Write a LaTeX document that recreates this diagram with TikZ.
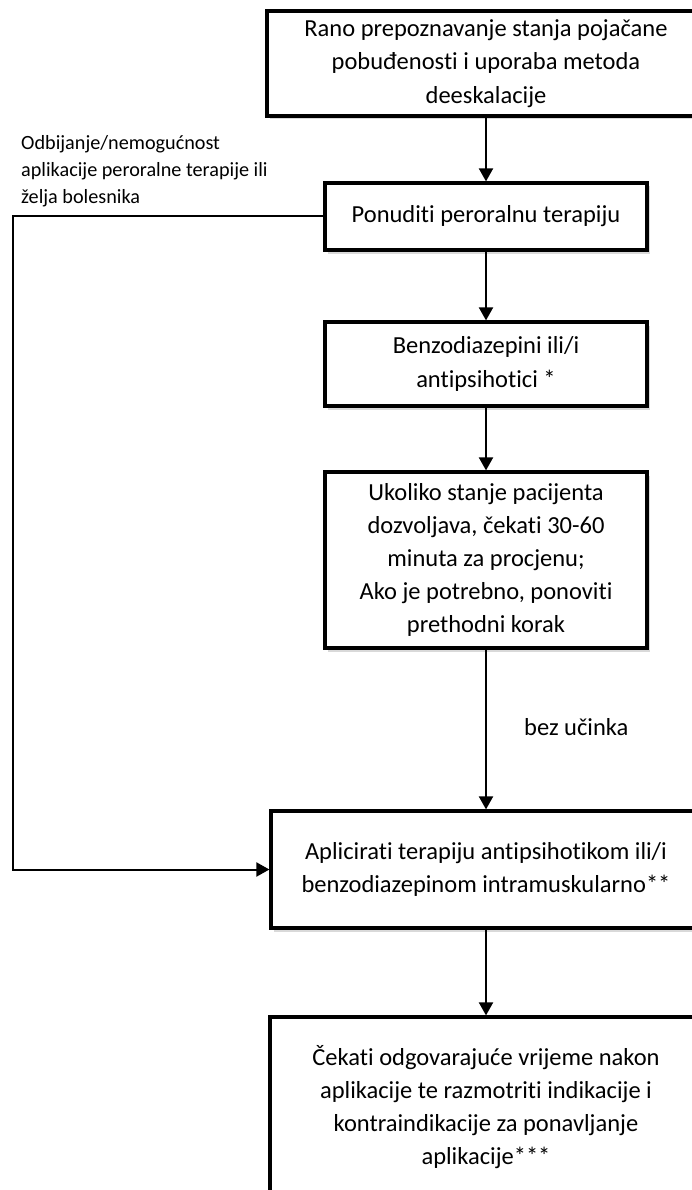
\documentclass[tikz,border=0pt]{standalone}
\usepackage{fontspec}
\setmainfont[Ligatures={NoCommon}]{Carlito}
\usetikzlibrary{arrows.meta,shadows}
\begin{document}
\begin{tikzpicture}[x=1pt,y=-1pt,
  box/.style={draw=black, line width=3.2pt, fill=white, align=center, inner sep=0pt,
    font=\fontsize{24.5}{33.2}\selectfont,
    drop shadow={shadow xshift=3pt, shadow yshift=-3.5pt, opacity=0.3}},
  conn/.style={line width=2pt, -{Triangle[length=13pt,width=14pt]}},
  lbl/.style={inner sep=0pt, align=left}
]
\useasboundingbox (0,0) rectangle (692,1190);
\clip (0,0) rectangle (692,1190);

\node[box, minimum width=438pt, minimum height=105pt] (b1) at (486,63.5)
  {Rano prepoznavanje stanja pojačane\\ pobuđenosti i uporaba metoda\\ deeskalacije};
\node[box, minimum width=322pt, minimum height=67pt] (b2) at (486,216.5)
  {Ponuditi peroralnu terapiju};
\node[box, minimum width=322pt, minimum height=84pt] (b3) at (486,364)
  {Benzodiazepini ili/i\\ antipsihotici *};
\node[box, minimum width=322pt, minimum height=176pt] (b4) at (486,560)
  {Ukoliko stanje pacijenta\\ dozvoljava, čekati 30-60\\ minuta za procjenu;\\ Ako je potrebno, ponoviti\\ prethodni korak};
\node[box, minimum width=430pt, minimum height=117pt] (b5) at (486,869.5)
  {Aplicirati terapiju antipsihotikom ili/i\\ benzodiazepinom intramuskularno**};
\node[box, minimum width=432pt, minimum height=180pt] (b6) at (486,1107)
  {Čekati odgovarajuće vrijeme nakon\\ aplikacije te razmotriti indikacije i\\ kontraindikacije za ponavljanje\\ aplikacije***};

\node[lbl, anchor=north west, font=\fontsize{20.2}{27}\selectfont] (l1) at (21,135)
  {Odbijanje/nemogućnost\\ aplikacije peroralne terapije ili\\ želja bolesnika};
\node[lbl, anchor=west, font=\fontsize{24.5}{33}\selectfont] (l2) at (524,727) {bez učinka};

\coordinate (lc) at (13,217);
\draw[conn] (b1) -- (b2);
\draw[conn] (b2) -- (b3);
\draw[conn] (b3) -- (b4);
\draw[conn] (b4) -- (b5);
\draw[conn] (b5) -- (b6);
\draw[conn] (b2.west) -- (b2.west -| lc) |- (b5.west);
\end{tikzpicture}
\end{document}
